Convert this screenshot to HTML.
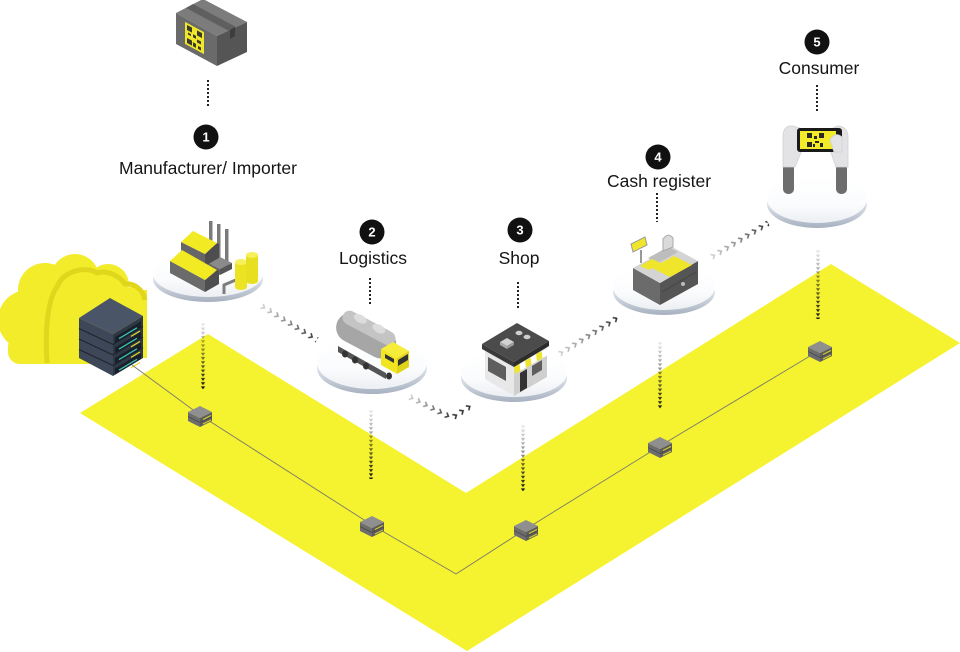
<!DOCTYPE html>
<html><head><meta charset="utf-8">
<style>
html,body{margin:0;padding:0;background:#fff;}
svg{display:block;}
text{font-family:"Liberation Sans",Arial,sans-serif;}
</style></head><body>
<svg width="960" height="652" viewBox="0 0 960 652" xmlns="http://www.w3.org/2000/svg">
<defs>
  <pattern id="vd" x="-3" y="0" width="6" height="4.2" patternUnits="userSpaceOnUse">
    <path d="M0.8,0.3 H5.2 L3,3.4 Z" fill="#151515"/>
  </pattern>
  <linearGradient id="fv" x1="0" y1="0" x2="0" y2="1">
    <stop offset="0" stop-color="#fff" stop-opacity="0.1"/>
    <stop offset="0.5" stop-color="#fff" stop-opacity="0.55"/>
    <stop offset="1" stop-color="#fff" stop-opacity="1"/>
  </linearGradient>
  <mask id="mv" maskContentUnits="objectBoundingBox"><rect width="1" height="1" fill="url(#fv)"/></mask>

  <pattern id="ch" x="0" y="-3.5" width="8" height="7" patternUnits="userSpaceOnUse">
    <path d="M2.2,0.8 L5.2,3.5 L2.2,6.2" fill="none" stroke="#333" stroke-width="1.6"/>
  </pattern>
  <linearGradient id="fh" x1="0" y1="0" x2="1" y2="0">
    <stop offset="0" stop-color="#fff" stop-opacity="0.2"/>
    <stop offset="1" stop-color="#fff" stop-opacity="1"/>
  </linearGradient>
  <mask id="mh" maskContentUnits="objectBoundingBox"><rect width="1" height="1" fill="url(#fh)"/></mask>

  <linearGradient id="rg" x1="0" y1="0" x2="0" y2="1">
    <stop offset="0" stop-color="#ffffff"/>
    <stop offset="0.5" stop-color="#dde2ea"/>
    <stop offset="1" stop-color="#a7b1c0"/>
  </linearGradient>
  <linearGradient id="pg" x1="0" y1="0" x2="0" y2="1">
    <stop offset="0" stop-color="#ffffff"/>
    <stop offset="0.6" stop-color="#fbfcfd"/>
    <stop offset="1" stop-color="#eceff3"/>
  </linearGradient>

  <g id="node">
    <polygon points="-12,-3 0,3 0,12 -12,6" fill="#6d6d6d"/>
    <polygon points="0,3 12,-3 12,6 0,12" fill="#5c5c5c"/>
    <polygon points="-12,-3 0,-9 12,-3 0,3" fill="#8f8f8f"/>
    <polyline points="-12,1.5 0,7.5 12,1.5" fill="none" stroke="#4a4a4a" stroke-width="0.8"/>
    <line x1="3" y1="4.5" x2="11" y2="0.5" stroke="#d9cf2a" stroke-width="1"/>
    <line x1="3" y1="9" x2="11" y2="5" stroke="#d9cf2a" stroke-width="1"/>
  </g>
</defs>

<!-- yellow floor -->
<polygon points="80,413 208,334 466,493 831,264 960,343 467,651" fill="#f5f230"/>

<!-- cloud -->
<g fill="#f2ec2b">
  <circle cx="28" cy="320" r="30"/>
  <circle cx="45" cy="290" r="27"/>
  <circle cx="75" cy="278" r="24"/>
  <circle cx="108" cy="285" r="21"/>
  <circle cx="132" cy="302" r="15"/>
  <rect x="25" y="290" width="122" height="68"/>
  <rect x="8" y="335" width="125" height="29" rx="12"/>
</g>
<path d="M47,363 C45,330 47,300 58,285 C63,272 85,265 97,273 C105,270 118,274 125,284 C135,283 143,290 145,300" fill="none" stroke="#e0d71d" stroke-width="5"/>

<!-- server stack -->
<g>
  <polygon points="79,318 113,334 113,376 79,358" fill="#3d4757"/>
  <polygon points="113,334 143,316 143,358 113,376" fill="#2f3846"/>
  <polygon points="79,318 110,298 143,316 113,334" fill="#4a5668"/>
  <g stroke="#1e252f" stroke-width="1.2" fill="none">
    <polyline points="79,328.5 113,344.5 143,326.5"/>
    <polyline points="79,339 113,355 143,337"/>
    <polyline points="79,349.5 113,365.5 143,347.5"/>
  </g>
  <g>
    <polygon points="115,337 141,321.4 141,327.4 115,343" fill="#1a2029"/>
    <line x1="119" y1="338.6" x2="137" y2="327.8" stroke="#38c4b0" stroke-width="1.3"/>
    <line x1="131" y1="336.4" x2="140" y2="331" stroke="#e6dc2a" stroke-width="1.2"/>
    <polygon points="115,347.5 141,331.9 141,337.9 115,353.5" fill="#1a2029"/>
    <line x1="119" y1="349.1" x2="137" y2="338.3" stroke="#38c4b0" stroke-width="1.3"/>
    <line x1="131" y1="346.9" x2="140" y2="341.5" stroke="#e6dc2a" stroke-width="1.2"/>
    <polygon points="115,358 141,342.4 141,348.4 115,364" fill="#1a2029"/>
    <line x1="119" y1="359.6" x2="137" y2="348.8" stroke="#38c4b0" stroke-width="1.3"/>
    <line x1="131" y1="357.4" x2="140" y2="352" stroke="#e6dc2a" stroke-width="1.2"/>
    <polygon points="115,368.5 141,352.9 141,358.9 115,374.5" fill="#1a2029"/>
    <line x1="119" y1="370.1" x2="137" y2="359.3" stroke="#38c4b0" stroke-width="1.3"/>
    <line x1="131" y1="367.9" x2="140" y2="362.5" stroke="#e6dc2a" stroke-width="1.2"/>
  </g>
</g>

<!-- connector line -->
<polyline points="132,365 200,415 372,525 456,574 526,529 660,446 820,350" fill="none" stroke="#7a7a6a" stroke-width="0.9"/>

<!-- nodes -->
<use href="#node" x="200" y="415"/>
<use href="#node" x="372" y="525"/>
<use href="#node" x="526" y="529"/>
<use href="#node" x="660" y="446"/>
<use href="#node" x="820" y="350"/>

<!-- vertical arrow columns -->
<g transform="translate(203,323)"><rect x="-3" y="0" width="6" height="66" fill="url(#vd)" mask="url(#mv)"/></g>
<g transform="translate(371,410)"><rect x="-3" y="0" width="6" height="69" fill="url(#vd)" mask="url(#mv)"/></g>
<g transform="translate(523,425)"><rect x="-3" y="0" width="6" height="66" fill="url(#vd)" mask="url(#mv)"/></g>
<g transform="translate(660,342)"><rect x="-3" y="0" width="6" height="67" fill="url(#vd)" mask="url(#mv)"/></g>
<g transform="translate(818,250)"><rect x="-3" y="0" width="6" height="69" fill="url(#vd)" mask="url(#mv)"/></g>

<!-- chevron trails -->
<g transform="translate(260,305) rotate(31.5)"><rect x="0" y="-3.5" width="67" height="7" fill="url(#ch)" mask="url(#mh)"/></g>
<g transform="translate(408,396) rotate(26.6)"><rect x="0" y="-3.5" width="49" height="7" fill="url(#ch)" mask="url(#mh)"/></g>
<g transform="translate(452,418) rotate(-33)"><rect x="0" y="-3.5" width="24" height="7" fill="url(#ch)"/></g>
<g transform="translate(558,355) rotate(-32)"><rect x="0" y="-3.5" width="70" height="7" fill="url(#ch)" mask="url(#mh)"/></g>
<g transform="translate(710,258) rotate(-31)"><rect x="0" y="-3.5" width="68" height="7" fill="url(#ch)" mask="url(#mh)"/></g>

<!-- platforms -->
<ellipse cx="208" cy="279" rx="55" ry="23" fill="url(#rg)"/>
<ellipse cx="208" cy="274" rx="55" ry="23" fill="url(#pg)"/>
<ellipse cx="372" cy="368" rx="55" ry="26" fill="url(#rg)"/>
<ellipse cx="372" cy="363" rx="55" ry="26" fill="url(#pg)"/>
<ellipse cx="514" cy="378" rx="53" ry="24" fill="url(#rg)"/>
<ellipse cx="514" cy="373" rx="53" ry="24" fill="url(#pg)"/>
<ellipse cx="664" cy="292" rx="51" ry="23" fill="url(#rg)"/>
<ellipse cx="664" cy="287" rx="51" ry="23" fill="url(#pg)"/>
<ellipse cx="817" cy="204" rx="50" ry="24" fill="url(#rg)"/>
<ellipse cx="817" cy="199" rx="50" ry="24" fill="url(#pg)"/>

<!-- box icon -->
<g>
  <polygon points="176,13 203,-1 247,22 217,36" fill="#7c7c7c"/>
  <polygon points="176,13 217,36 217,66 176,44" fill="#6a6a6a"/>
  <polygon points="217,36 247,22 247,52 217,66" fill="#555"/>
  <polygon points="186,8 193,4 236,27 229,31" fill="#5f5f5f"/>
  <polygon points="230,30 235,27 235,36 230,39" fill="#3d3d3d"/>
  <g transform="matrix(1,0.54,0,1,0,0)">
    <rect x="185" y="-78" width="19" height="22" fill="#f0e62a"/>
    <g fill="#3a3a2a">
      <rect x="187" y="-76" width="5" height="5"/>
      <rect x="197" y="-76" width="5" height="5"/>
      <rect x="187" y="-63" width="5" height="5"/>
      <rect x="193" y="-70" width="3" height="3"/>
      <rect x="197" y="-67" width="4" height="3"/>
      <rect x="193" y="-62" width="3" height="4"/>
      <rect x="198" y="-61" width="3" height="3"/>
      <rect x="188" y="-69" width="3" height="2"/>
    </g>
  </g>
</g>

<!-- factory -->
<g>
  <rect x="209" y="221" width="3.5" height="44" fill="#7a7a7a"/>
  <rect x="217" y="224" width="3.5" height="42" fill="#7a7a7a"/>
  <rect x="225" y="229" width="3.5" height="38" fill="#7a7a7a"/>
  <polygon points="206,262 218,256 232,263 220,269" fill="#8a8a8a"/>
  <polygon points="206,262 220,269 220,275 206,268" fill="#666"/>
  <polygon points="220,269 232,263 232,269 220,275" fill="#555"/>
  <polygon points="181,242 205,254 205,266 181,254" fill="#666"/>
  <polygon points="205,254 217,243 219,244 219,258 205,266" fill="#4e4e4e"/>
  <polygon points="181,242 193,231 217,243 205,254" fill="#f2ea22"/>
  <polygon points="170,261 205,280 205,292 170,273" fill="#6b6b6b"/>
  <polygon points="205,280 217,270 219,271 219,284 205,292" fill="#4e4e4e"/>
  <polygon points="170,261 182,250 217,270 205,280" fill="#f2ea22"/>
  <polyline points="224,294 224,285 238,279" fill="none" stroke="#7d7d7d" stroke-width="3"/>
  <rect x="235" y="262" width="12" height="25" fill="#ece322"/>
  <ellipse cx="241" cy="287" rx="6" ry="3" fill="#ece322"/>
  <ellipse cx="241" cy="262" rx="6" ry="3" fill="#f6f05a"/>
  <rect x="246" y="255" width="12" height="26" fill="#e8df20"/>
  <ellipse cx="252" cy="281" rx="6" ry="3" fill="#e8df20"/>
  <ellipse cx="252" cy="255" rx="6" ry="3" fill="#f6f05a"/>
</g>

<!-- truck -->
<g>
  <polygon points="338,346 386,373 386,379 338,352" fill="#555"/>
  <ellipse cx="345" cy="354" rx="3" ry="3.5" fill="#333"/>
  <ellipse cx="355" cy="360" rx="3" ry="3.5" fill="#333"/>
  <ellipse cx="366" cy="366" rx="3" ry="3.5" fill="#333"/>
  <ellipse cx="389" cy="376" rx="3" ry="3.5" fill="#333"/>
  <g transform="translate(367,336) rotate(28)">
    <rect x="-33" y="-15" width="64" height="30" rx="15" fill="#a6a6a6"/>
    <rect x="-31" y="-15" width="58" height="14" rx="7" fill="#c4c4c4"/>
    <ellipse cx="-14" cy="-12" rx="7" ry="4" fill="#dcdcdc"/>
    <ellipse cx="7" cy="-12" rx="7" ry="4" fill="#dcdcdc"/>
  </g>
  <polygon points="381,349 397,358 397,374 381,365" fill="#f1e521"/>
  <polygon points="397,358 409,351 409,367 397,374" fill="#e0d31a"/>
  <polygon points="381,349 393,342 409,351 397,358" fill="#f6ec3a"/>
  <polygon points="398,360 408,354 408,360 398,366" fill="#333"/>
  <polygon points="385,354 394,359 394,363 385,358" fill="#333"/>
</g>

<!-- shop -->
<g>
  <polygon points="485,349 514,366 514,396 485,379" fill="#e8e8e8"/>
  <polygon points="514,366 547,347 547,377 514,396" fill="#cfcfcf"/>
  <polygon points="488,357 506,367 506,381 488,371" fill="#5e5e5e"/>
  <polygon points="520,373 527,369 527,388 520,392" fill="#333"/>
  <polygon points="532,366 542,360 542,370 532,376" fill="#5e5e5e"/>
  <polygon points="514,367 547,348 548,355 515,374" fill="#fff"/>
  <polygon points="514,367 519.5,363.8 520.5,370.8 515,374" fill="#f0e42a"/>
  <polygon points="525,360.7 530.5,357.5 531.5,364.5 526,367.7" fill="#f0e42a"/>
  <polygon points="536,354.3 541.5,351.1 542.5,358.1 537,361.3" fill="#f0e42a"/>
  <polygon points="482,344 514,362 514,367 482,349" fill="#3a3a3a"/>
  <polygon points="514,362 549,341 549,346 514,367" fill="#2c2c2c"/>
  <polygon points="482,344 517,323 549,341 514,362" fill="#4b4b4b"/>
  <polygon points="500,342 507,338 514,342 507,346" fill="#d2d2d2"/>
  <polygon points="500,342 507,346 507,349 500,345" fill="#aaa"/>
  <polygon points="507,346 514,342 514,345 507,349" fill="#999"/>
  <ellipse cx="519" cy="333" rx="3.5" ry="2.2" fill="#cfcfcf"/>
  <ellipse cx="527" cy="337" rx="3.5" ry="2.2" fill="#cfcfcf"/>
</g>

<!-- cash register -->
<g>
  <polygon points="633,268 660,283 660,305 633,290" fill="#6b6b6b"/>
  <polygon points="660,283 698,261 698,284 660,305" fill="#555"/>
  <polygon points="633,268 672,247 698,261 660,283" fill="#d4d4d4"/>
  <polyline points="662,292 696,272" fill="none" stroke="#444" stroke-width="1"/>
  <circle cx="683" cy="284" r="2" fill="#bbb"/>
  <polygon points="648,258 668,247 678,252 658,263" fill="#bdbdbd"/>
  <polygon points="652,268 674,256 692,265 670,277" fill="#efe52a"/>
  <polygon points="640,266 652,259 661,263 649,270" fill="#efe52a"/>
  <line x1="641" y1="263" x2="641" y2="250" stroke="#999" stroke-width="2"/>
  <polygon points="631,244 645,237 647,245 633,252" fill="#efe52a" stroke="#9a9a9a" stroke-width="1"/>
  <path d="M663,251 L663,239 Q668,232 673,238 L673,247 Z" fill="#dadada" stroke="#aaa" stroke-width="1"/>
</g>

<!-- consumer -->
<g>
  <rect x="783" y="163" width="11" height="31" rx="5" fill="#6d6d6d"/>
  <rect x="836" y="163" width="11" height="31" rx="5" fill="#6d6d6d"/>
  <path d="M783,167 L783,135 Q784,125 793,126 L800,128 L802,150 L795,167 Z" fill="#e3e3e6" stroke="#cfd0d4" stroke-width="0.8"/>
  <path d="M848,167 L848,135 Q846,126 838,126 L833,128 L830,150 L836,167 Z" fill="#e3e3e6" stroke="#cfd0d4" stroke-width="0.8"/>
  <rect x="797" y="128" width="45" height="24" rx="3" fill="#1a1a1a"/>
  <rect x="800" y="131" width="36" height="18" fill="#f3ea2a"/>
  <g fill="#2a2a20">
    <rect x="807" y="133" width="5" height="5"/>
    <rect x="819" y="133" width="5" height="5"/>
    <rect x="807" y="142" width="5" height="5"/>
    <rect x="814" y="136" width="3" height="3"/>
    <rect x="815" y="141" width="4" height="2"/>
    <rect x="820" y="143" width="3" height="4"/>
    <rect x="813" y="144" width="2" height="3"/>
  </g>
  <path d="M830,140 Q835,131 842,137 L842,152 L834,152 Z" fill="#e3e3e6" stroke="#cfd0d4" stroke-width="0.8"/>
</g>

<!-- dotted lines under labels -->
<g stroke="#222" stroke-width="2" stroke-dasharray="2 2">
  <line x1="208" y1="80" x2="208" y2="108"/>
  <line x1="370" y1="278" x2="370" y2="306"/>
  <line x1="518" y1="282" x2="518" y2="310"/>
  <line x1="657" y1="193" x2="657" y2="222"/>
  <line x1="817" y1="85" x2="817" y2="113"/>
</g>

<!-- number circles -->
<g>
  <circle cx="206" cy="137" r="12.5" fill="#111"/>
  <text x="206" y="141.5" fill="#fff" font-size="13" font-weight="bold" text-anchor="middle">1</text>
  <circle cx="372" cy="232" r="12.5" fill="#111"/>
  <text x="372" y="236.5" fill="#fff" font-size="13" font-weight="bold" text-anchor="middle">2</text>
  <circle cx="520" cy="230" r="12.5" fill="#111"/>
  <text x="520" y="234.5" fill="#fff" font-size="13" font-weight="bold" text-anchor="middle">3</text>
  <circle cx="658" cy="157" r="12.5" fill="#111"/>
  <text x="658" y="161.5" fill="#fff" font-size="13" font-weight="bold" text-anchor="middle">4</text>
  <circle cx="817" cy="42" r="12.5" fill="#111"/>
  <text x="817" y="46.5" fill="#fff" font-size="13" font-weight="bold" text-anchor="middle">5</text>
</g>

<!-- labels -->
<g fill="#151515" font-size="17.5" text-anchor="middle">
  <text x="208" y="174">Manufacturer/ Importer</text>
  <text x="373" y="264">Logistics</text>
  <text x="519" y="264">Shop</text>
  <text x="659" y="187">Cash register</text>
  <text x="819" y="74">Consumer</text>
</g>
</svg>
</body></html>
